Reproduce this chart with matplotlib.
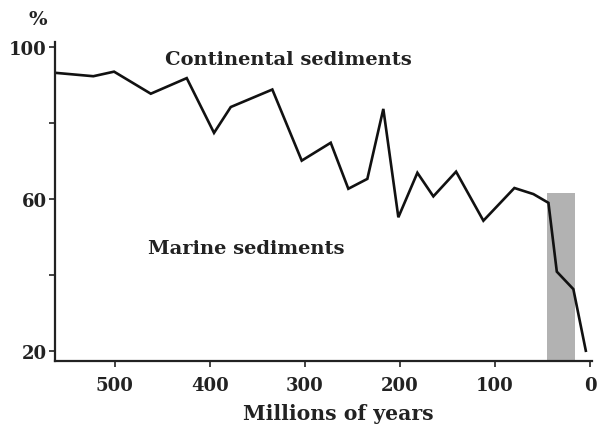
import matplotlib
matplotlib.use("Agg")
import matplotlib.pyplot as plt
from matplotlib.patches import Rectangle

# Data (millions of years ago, % continental)
age_myr = [562.6, 522.3, 500.5, 461.9, 424.1, 395.4, 377.8, 334.1, 303.2, 272.7,
           254.2, 234.2, 217.4, 201.6, 181.6, 164.8, 140.9, 112.2, 79.6, 59.6,
           43.8, 35.0, 17.6, 4.5]
percent = [93.1, 92.2, 93.4, 87.6, 91.7, 77.3, 84.1, 88.7, 70.0, 74.7,
           62.6, 65.2, 83.6, 55.1, 66.8, 60.6, 67.1, 54.2, 62.8, 61.2,
           58.9, 40.8, 36.2, 20.0]
band_span = [45.7, 16.3]   # shaded interval (Myr)
band_top = 61.5
x_ticks = [500, 400, 300, 200, 100, 0]
y_ticks = [20, 40, 60, 80, 100]
y_tick_labels = ["20", "", "60", "", "100"]

plt.rcParams['font.family'] = ['DejaVu Serif']
plt.rcParams['font.weight'] = 'bold'

fig = plt.figure(figsize=(6.04, 4.27), dpi=100)
ax = fig.add_axes([55/604, 1-362/427, (592-55)/604, (362-43)/427])

ax.set_xlim(562.6, -2)
ax.set_ylim(17.3, 101.2)

ymin = ax.get_ylim()[0]
ax.add_patch(Rectangle((band_span[1], ymin), band_span[0]-band_span[1], band_top-ymin,
                       facecolor='#b2b2b2', edgecolor='none', zorder=1))
ax.plot(age_myr, percent, color='#111111', lw=1.9, zorder=2, solid_joinstyle='miter')

for s in ['top', 'right']:
    ax.spines[s].set_visible(False)
for s in ['left', 'bottom']:
    ax.spines[s].set_linewidth(1.6)
    ax.spines[s].set_color('#222222')

ax.set_xticks(x_ticks)
ax.set_xticklabels([str(v) for v in x_ticks])
ax.set_yticks(y_ticks)
ax.set_yticklabels(y_tick_labels)
ax.tick_params(axis='both', direction='out', length=4, width=1.2, color='#222222',
               labelsize=13, labelcolor='#222222')
ax.tick_params(axis='y', pad=2)
ax.tick_params(axis='x', pad=7)
for lbl in ax.get_xticklabels() + ax.get_yticklabels():
    lbl.set_fontweight('bold')

fig.text(338/604, 1-414/427, 'Millions of years', ha='center', va='center',
         fontsize=14.7, fontweight='bold', color='#222222')

ax.text(317.6, 96.8, 'Continental sediments', ha='center', va='center',
        fontsize=14, fontweight='bold', color='#222222')
ax.text(361.2, 47.0, 'Marine sediments', ha='center', va='center',
        fontsize=14, fontweight='bold', color='#222222')
fig.text(38/604, 1-20/427, '%', ha='center', va='center',
         fontsize=14, fontweight='bold', color='#222222')

fig.savefig('out.png', dpi=100)
